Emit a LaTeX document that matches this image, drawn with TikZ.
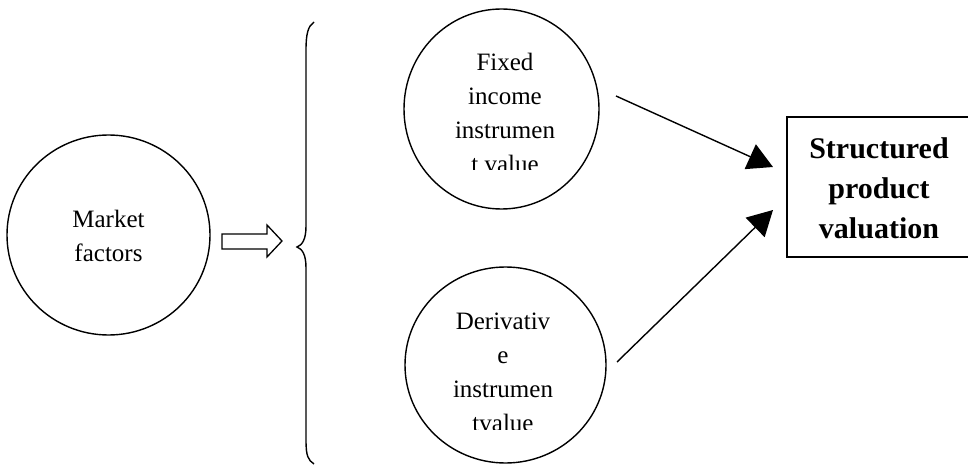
\documentclass[tikz,border=0pt]{standalone}
\usepackage{fontspec}
\setmainfont{Liberation Serif}
\usetikzlibrary{arrows.meta,shapes.geometric}
\begin{document}
\begin{tikzpicture}[x=1pt,y=-1pt,
  bubble/.style={ellipse,draw,line width=1.4pt,inner sep=0pt},
  label/.style={align=center,inner sep=0pt,font=\fontsize{25}{34}\selectfont},
  result/.style={draw,line width=2.4pt,inner sep=0pt},
  flow/.style={line width=1.4pt,-{Triangle[length=25pt,width=27pt]}}]
\useasboundingbox (0,0) rectangle (968,465);

% market factors
\node[bubble,minimum width=203pt,minimum height=200pt] (market) at (108.5,235) {};
\node[label] (marketText) at (108.5,236) {Market\\factors};

% hollow block arrow
\draw[line width=1.3pt] (222,234) -- (267,234) -- (267,225) -- (282,241)
  -- (267,257) -- (267,249) -- (222,249) -- cycle;

% curly brace
\draw[line width=1.4pt] (314,22) .. controls (308,26) and (306,34) .. (306,50)
  -- (306,226) .. controls (306,240) and (302,245) .. (297,247)
  .. controls (302,249) and (306,254) .. (306,268)
  -- (306,440) .. controls (306,456) and (308,460) .. (314,464);

% instrument circles
\node[bubble,minimum width=195pt,minimum height=200pt] (fixed) at (501.5,109) {};
\node[bubble,minimum width=201pt,minimum height=196pt] (deriv) at (505.5,365) {};
\begin{scope}
  \clip (440,30) rectangle (570,170);
  \node[label,anchor=north] (fixedText) at (505,53) {Fixed\\income\\instrumen\\t value};
\end{scope}
\begin{scope}
  \clip (440,290) rectangle (570,429);
  \node[label,anchor=north] (derivText) at (503,313) {Derivativ\\e\\instrumen\\tvalue};
\end{scope}

% valuation box
\node[result,minimum width=188pt,minimum height=140pt] (box) at (881,187) {};
\node[align=center,inner sep=0pt,font=\bfseries\fontsize{30}{40}\selectfont]
  (boxText) at (879,188) {Structured\\product\\valuation};

% connectors
\coordinate (fixedOut) at (616,96);
\coordinate (derivOut) at (617,362);
\coordinate (inTop) at (773,167);
\coordinate (inBottom) at (773,210);
\draw[flow] (fixedOut) -- (inTop);
\draw[flow] (derivOut) -- (inBottom);
\end{tikzpicture}
\end{document}
